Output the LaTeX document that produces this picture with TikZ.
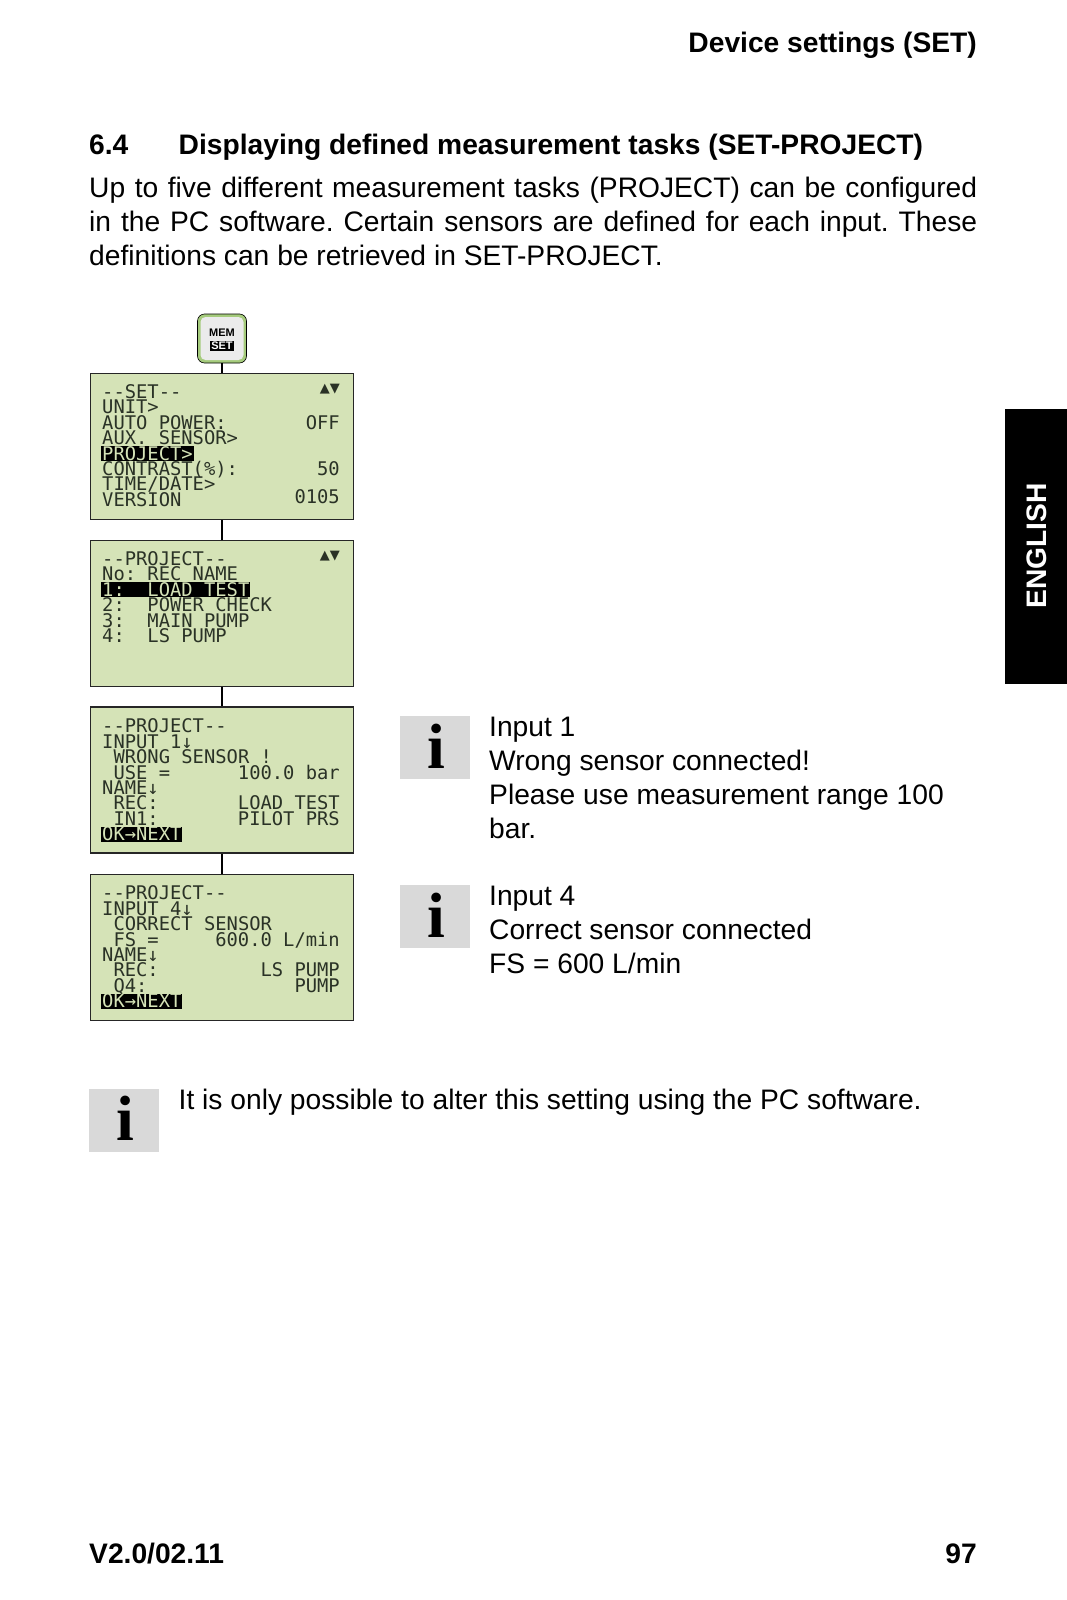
\documentclass[tikz,border=0pt]{standalone}
\usepackage{fontspec}
\setmainfont{Liberation Sans}
\newfontfamily\lcdfont{DejaVu Sans Mono}
\newfontfamily\iconfont{Liberation Serif}
\newfontfamily\symfont{DejaVu Sans}
\frenchspacing
\definecolor{lcdgreen}{HTML}{D5E3B7}
\definecolor{lcdink}{HTML}{2A3226}
\definecolor{keygreen}{HTML}{A5CB7C}
\definecolor{infogray}{HTML}{D9D9D9}
\tikzset{
  bodytext/.style={inner sep=0pt,anchor=base west,font=\fontsize{28.2}{34}\selectfont},
  boldtext/.style={inner sep=0pt,anchor=base west,font=\fontsize{28.2}{34}\selectfont\bfseries},
  lcdbox/.style={draw=black!85,line width=1.6pt,fill=lcdgreen,minimum width=263pt,minimum height=146pt,inner sep=0pt},
  lcdleft/.style={inner sep=0pt,anchor=base west,text=lcdink,font=\fontsize{18.8}{15}\lcdfont},
  lcdright/.style={inner sep=0pt,anchor=base east,text=lcdink,font=\fontsize{18.8}{15}\lcdfont},
  lcdsel/.style={inner xsep=1pt,inner ysep=0pt,anchor=base west,fill=black,text=lcdgreen,text height=14pt,text depth=1pt,font=\fontsize{18.8}{15}\lcdfont},
  lcdarrows/.style={inner sep=0pt,anchor=base east,text=lcdink,font=\fontsize{13}{13}\symfont},
  infobox/.style={fill=infogray,minimum width=70pt,minimum height=63pt,inner sep=0pt},
  infoi/.style={inner sep=0pt,anchor=base,font=\fontsize{64}{64}\iconfont\bfseries},
}
\begin{document}
\begin{tikzpicture}[x=1pt,y=-1pt]
  \useasboundingbox (0,0) rectangle (1067,1600);
  % page text
  \node[boldtext,anchor=base east](HEAD) at (977,53) {Device settings (SET)};
  \node[boldtext](SECNO) at (89,154) {6.4};
  \node[boldtext](SECT) at (178.5,154) {Displaying defined measurement tasks (SET-PROJECT)};
  \node[bodytext,text width=888pt,align=justify](PARA) at (89,197) {Up to five different measurement tasks (PROJECT) can be configured\linebreak in the PC software. Certain sensors are defined for each input. These\linebreak definitions can be retrieved in SET-PROJECT.};
  \node[fill=black,minimum width=62pt,minimum height=275pt,inner sep=0pt](TAB) at (1036,546.5) {};
  \node[boldtext,anchor=center,text=white,rotate=90,font=\fontsize{28.2}{28}\selectfont\bfseries](LANG) at (1037,546) {ENGLISH};
  % key and screens
  \node[draw=black,line width=0.6pt,fill=keygreen,rounded corners=7pt,minimum width=49pt,minimum height=49pt,inner sep=0pt](KEY) at (222,338.5) {};
  \node[draw=none,fill=black!8,rounded corners=5pt,minimum width=43pt,minimum height=43pt,inner sep=0pt](KEYIN) at (222,338.5) {};
  \node[inner sep=0pt,font=\fontsize{11}{11}\selectfont\bfseries](KEYA) at (222,333) {MEM};
  \node[inner xsep=1.5pt,inner ysep=1pt,fill=black,text=white,font=\fontsize{11}{11}\selectfont\bfseries](KEYB) at (222,345.7) {SET};
  \node[lcdbox](SET) at (222,446.5) {};
  \node[lcdbox](LIST) at (222,613.5) {};
  \node[lcdbox](WRONG) at (222,780) {};
  \node[lcdbox](RIGHT) at (222,947.5) {};
  \draw[line width=1.2pt] (KEY) -- (SET);
  \draw[line width=1.2pt] (SET) -- (LIST);
  \draw[line width=1.2pt] (LIST) -- (WRONG);
  \draw[line width=1.2pt] (WRONG) -- (RIGHT);
  % first screen
  \foreach \n/\t in {0/{--SET--},1/{UNIT>},2/{AUTO POWER:},3/{AUX. SENSOR>},5/{CONTRAST(\%):},6/{TIME/DATE>},7/{VERSION}}
    \node[lcdleft](SET\n) at (102,{398.5+15.4*\n}) {\t};
  \node[lcdsel](SET4) at (101,460) {PROJECT>};
  \node[lcdright](SETA) at (340,429.3) {OFF};
  \node[lcdright](SETB) at (340,475.5) {50};
  \node[lcdright](SETC) at (340,503.5) {0105};
  \node[lcdarrows](SETM) at (340,392) {▲▼};
  % second screen
  \foreach \n/\t in {0/{--PROJECT--},1/{No: REC NAME},3/{2:~~POWER CHECK},4/{3:~~MAIN PUMP},5/{4:~~LS PUMP}}
    \node[lcdleft](LIST\n) at (102,{565.5+15.4*\n}) {\t};
  \node[lcdsel](LIST2) at (101,596.3) {1:~~LOAD TEST};
  \node[lcdarrows](LISTM) at (340,559) {▲▼};
  % third screen
  \foreach \n/\t in {0/{--PROJECT--},1/{INPUT 1↓},2/{~WRONG SENSOR !},3/{~USE =},4/{NAME↓},5/{~REC:},6/{~IN1:}}
    \node[lcdleft](WRONG\n) at (102,{732.9+15.4*\n}) {\t};
  \node[lcdsel](WRONG7) at (101,840.7) {OK→NEXT};
  \node[lcdright](WRONGA) at (340,779.1) {100.0 bar};
  \node[lcdright](WRONGB) at (340,809.9) {LOAD TEST};
  \node[lcdright](WRONGC) at (340,825.3) {PILOT PRS};
  % fourth screen
  \foreach \n/\t in {0/{--PROJECT--},1/{INPUT 4↓},2/{~CORRECT SENSOR},3/{~FS =},4/{NAME↓},5/{~REC:},6/{~Q4:}}
    \node[lcdleft](RIGHT\n) at (102,{899.9+15.4*\n}) {\t};
  \node[lcdsel](RIGHT7) at (101,1007.7) {OK→NEXT};
  \node[lcdright](RIGHTA) at (340,946.1) {600.0 L/min};
  \node[lcdright](RIGHTB) at (340,976.9) {LS PUMP};
  \node[lcdright](RIGHTC) at (340,992.3) {PUMP};
  % notes
  \node[infobox](INFOA) at (435,747.5) {};
  \node[infoi](IA) at (436,768) {i};
  \node[bodytext,text width=490pt,align=flush left](NOTEA) at (489,736.5) {Input 1\\Wrong sensor connected!\\Please use measurement range 100\\bar.};
  \node[infobox](INFOB) at (435,916.5) {};
  \node[infoi](IB) at (436,937) {i};
  \node[bodytext,text width=490pt,align=flush left](NOTEB) at (489,905.8) {Input 4\\Correct sensor connected\\FS = 600 L/min};
  \node[infobox](INFOC) at (124,1120) {};
  \node[infoi](IC) at (125,1140.5) {i};
  \node[bodytext](NOTEC) at (178.5,1109) {It is only possible to alter this setting using the PC software.};
  % footer
  \node[boldtext](VER) at (89,1563.5) {V2.0/02.11};
  \node[boldtext,anchor=base east](PAGE) at (977,1563.5) {97};
\end{tikzpicture}
\end{document}
